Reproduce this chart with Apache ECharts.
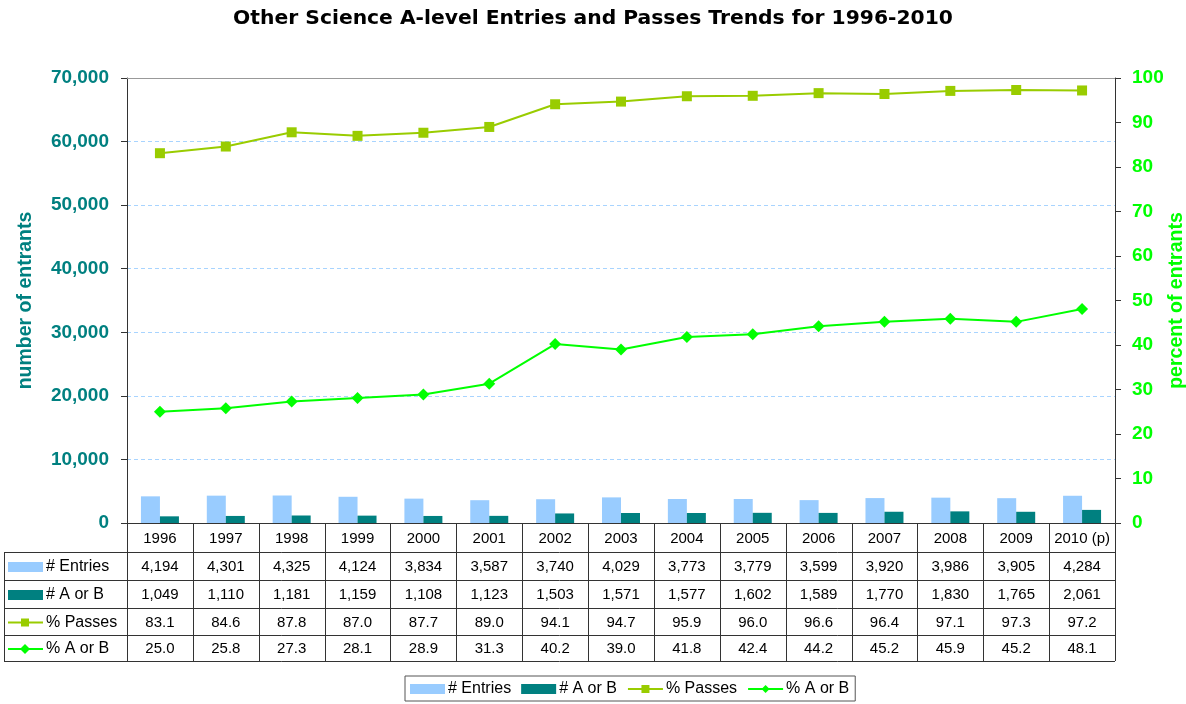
<!DOCTYPE html>
<html>
<head>
<meta charset="utf-8">
<title>Other Science A-level Entries and Passes Trends for 1996-2010</title>
<script src="https://cdn.jsdelivr.net/npm/echarts@6/dist/echarts.min.js"></script>
<style>
    html, body { margin: 0; padding: 0; background: #fff; }
    #chart { width: 1186px; height: 704px; }
</style>
</head>
<body>
<div id="chart"></div>
<script>
// data
var years = ['1996', '1997', '1998', '1999', '2000', '2001', '2002', '2003',
    '2004', '2005', '2006', '2007', '2008', '2009', '2010 (p)'];
var entries = [4194, 4301, 4325, 4124, 3834, 3587, 3740, 4029, 3773, 3779, 3599, 3920, 3986, 3905, 4284];
var aOrB = [1049, 1110, 1181, 1159, 1108, 1123, 1503, 1571, 1577, 1602, 1589, 1770, 1830, 1765, 2061];
var pctPasses = [83.1, 84.6, 87.8, 87.0, 87.7, 89.0, 94.1, 94.7, 95.9, 96.0, 96.6, 96.4, 97.1, 97.3, 97.2];
var pctAOrB = [25.0, 25.8, 27.3, 28.1, 28.9, 31.3, 40.2, 39.0, 41.8, 42.4, 44.2, 45.2, 45.9, 45.2, 48.1];

var FONT = '"Liberation Sans", Arial, sans-serif';
var COLORS = {
    entries: '#99ccff',
    aOrB: '#008080',
    passes: '#99cc00',
    pctAB: '#00ff00'
};

// plot area / table layout
var PLOT = { left: 127, right: 1115, top: 78, bottom: 523 };
var TABLE = { left: 4, rows: [523, 552, 580, 608, 635, 661] };

function fmt(n) {
    return n.toLocaleString('en-US');
}

function build_table() {
    var els = [];
    var cw = (PLOT.right - PLOT.left) / years.length;
    var lineStyle = { stroke: '#333', lineWidth: 1 };
    var i, r;

    // top border of the plot area
    els.push({ type: 'line', z: 10, shape: { x1: PLOT.left, y1: PLOT.top + 0.5, x2: PLOT.right, y2: PLOT.top + 0.5 },
        style: { stroke: '#999', lineWidth: 1 }, silent: true });

    // horizontal rules
    for (r = 1; r < TABLE.rows.length; r++) {
        var y = TABLE.rows[r] + 0.5;
        els.push({ type: 'line', shape: { x1: TABLE.left, y1: y, x2: PLOT.right, y2: y }, style: lineStyle, silent: true });
    }
    // vertical rules
    els.push({ type: 'line', shape: { x1: TABLE.left + 0.5, y1: TABLE.rows[1], x2: TABLE.left + 0.5, y2: TABLE.rows[5] },
        style: lineStyle, silent: true });
    for (i = 0; i <= years.length; i++) {
        var x = Math.round(PLOT.left + i * cw) + 0.5;
        els.push({ type: 'line', shape: { x1: x, y1: TABLE.rows[0], x2: x, y2: TABLE.rows[5] }, style: lineStyle, silent: true });
    }

    // row values
    var rows = [
        entries.map(fmt),
        aOrB.map(fmt),
        pctPasses.map(function (v) { return v.toFixed(1); }),
        pctAOrB.map(function (v) { return v.toFixed(1); })
    ];
    for (r = 0; r < rows.length; r++) {
        var cy = (TABLE.rows[r + 1] + TABLE.rows[r + 2]) / 2 + 1;
        for (i = 0; i < years.length; i++) {
            els.push({ type: 'text', x: PLOT.left + (i + 0.5) * cw, y: cy, silent: true,
                style: { text: rows[r][i], fill: '#000', font: '15px ' + FONT, align: 'center', verticalAlign: 'middle' } });
        }
    }

    // row keys
    var names = ['# Entries', '# A or B', '% Passes', '% A or B'];
    for (r = 0; r < 4; r++) {
        var ky = (TABLE.rows[r + 1] + TABLE.rows[r + 2]) / 2 + 1;
        if (r < 2) {
            els.push({ type: 'rect', shape: { x: 8, y: ky - 5, width: 35, height: 10 },
                style: { fill: r === 0 ? COLORS.entries : COLORS.aOrB }, silent: true });
        } else {
            var c = r === 2 ? COLORS.passes : COLORS.pctAB;
            els.push({ type: 'line', shape: { x1: 8, y1: ky, x2: 43, y2: ky }, style: { stroke: c, lineWidth: 2 }, silent: true });
            if (r === 2) {
                els.push({ type: 'rect', shape: { x: 21, y: ky - 4, width: 8, height: 8 }, style: { fill: c }, silent: true });
            } else {
                els.push({ type: 'polygon', shape: { points: [[25, ky - 5], [30, ky], [25, ky + 5], [20, ky]] }, style: { fill: c }, silent: true });
            }
        }
        els.push({ type: 'text', x: 46, y: ky, silent: true,
            style: { text: names[r], fill: '#000', font: '16px ' + FONT, verticalAlign: 'middle' } });
    }
    return els;
}

var myChart = echarts.init(document.getElementById('chart'));

var option = {
    animation: false,
    backgroundColor: '#fff',
    title: {
        text: 'Other Science A-level Entries and Passes Trends for 1996-2010',
        left: 'center',
        top: 4,
        textStyle: { fontFamily: '"DejaVu Sans", Verdana, sans-serif', fontSize: 20.3, fontWeight: 'bold', color: '#000' }
    },
    legend: {
        left: 405,
        top: 676,
        itemWidth: 35,
        itemHeight: 10,
        itemGap: 10,
        padding: [5, 6, 4, 5],
        borderColor: '#555',
        borderWidth: 1,
        textStyle: { fontFamily: FONT, fontSize: 16, color: '#000', padding: [0, 0, 0, -2] },
        data: [
            { name: '# Entries', icon: 'rect' },
            { name: '# A or B', icon: 'rect' },
            '% Passes',
            '% A or B'
        ]
    },
    grid: {
        left: PLOT.left,
        right: 1186 - PLOT.right,
        top: PLOT.top,
        bottom: 704 - PLOT.bottom,
        outerBoundsMode: 'none',
        containLabel: false
    },
    xAxis: {
        type: 'category',
        data: years,
        axisLine: { lineStyle: { color: '#333' } },
        axisTick: { show: false },
        axisLabel: { color: '#000', fontFamily: FONT, fontSize: 15, margin: 8, interval: 0 }
    },
    yAxis: [
        {
            type: 'value',
            min: 0,
            max: 70000,
            interval: 10000,
            name: 'number of entrants',
            nameLocation: 'middle',
            nameGap: 91,
            nameTextStyle: { color: COLORS.aOrB, fontFamily: FONT, fontSize: 19.5, fontWeight: 'bold' },
            axisLine: { show: true, lineStyle: { color: '#333' } },
            axisTick: { show: true, length: 6, lineStyle: { color: '#333' } },
            axisLabel: {
                color: COLORS.aOrB, fontFamily: FONT, fontSize: 19, fontWeight: 'bold', margin: 18,
                formatter: function (v) { return fmt(v); }
            },
            splitLine: { show: true, showMinLine: false, showMaxLine: false, lineStyle: { color: '#a8d4ff', type: [4, 3] } }
        },
        {
            type: 'value',
            min: 0,
            max: 100,
            interval: 10,
            position: 'right',
            name: 'percent of entrants',
            nameLocation: 'middle',
            nameGap: 52,
            nameMoveOverlap: false,
            nameTextStyle: { color: COLORS.pctAB, fontFamily: FONT, fontSize: 19.5, fontWeight: 'bold' },
            axisLine: { show: true, lineStyle: { color: '#333' } },
            axisTick: { show: true, length: 6, lineStyle: { color: '#333' } },
            axisLabel: { color: COLORS.pctAB, fontFamily: FONT, fontSize: 19, fontWeight: 'bold', margin: 17 },
            splitLine: { show: false }
        }
    ],
    series: [
        {
            name: '# Entries',
            type: 'bar',
            data: entries,
            barWidth: 19,
            barGap: '0%',
            itemStyle: { color: COLORS.entries }
        },
        {
            name: '# A or B',
            type: 'bar',
            data: aOrB,
            barWidth: 19,
            barGap: '0%',
            itemStyle: { color: COLORS.aOrB }
        },
        {
            name: '% Passes',
            type: 'line',
            yAxisIndex: 1,
            data: pctPasses,
            symbol: 'rect',
            symbolSize: 10,
            lineStyle: { color: COLORS.passes, width: 2 },
            itemStyle: { color: COLORS.passes }
        },
        {
            name: '% A or B',
            type: 'line',
            yAxisIndex: 1,
            data: pctAOrB,
            symbol: 'diamond',
            symbolSize: 12,
            lineStyle: { color: COLORS.pctAB, width: 2 },
            itemStyle: { color: COLORS.pctAB }
        }
    ],
    graphic: build_table()
};

myChart.setOption(option);
</script>
</body>
</html>
